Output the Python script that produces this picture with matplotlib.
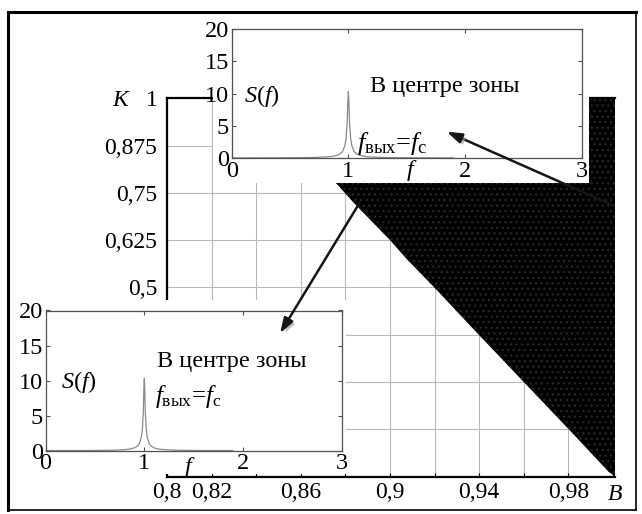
import matplotlib
matplotlib.use("Agg")
import matplotlib.pyplot as plt
import matplotlib.patheffects as pe
from matplotlib.patches import Rectangle, ConnectionPatch
from matplotlib.lines import Line2D

plt.rcParams["font.family"] = ["Liberation Serif", "DejaVu Serif"]
plt.rcParams["mathtext.fontset"] = "custom"
plt.rcParams["mathtext.rm"] = "Liberation Serif"
plt.rcParams["mathtext.it"] = "Liberation Serif:italic"
plt.rcParams["mathtext.bf"] = "Liberation Serif:bold"
plt.rcParams["hatch.linewidth"] = 1.0

# ---- main map: lower edge of the synchronisation zone in the (B, K) plane ----
zone_b = [0.840, 0.8744, 0.884, 0.900, 0.9075, 0.921, 0.9374, 0.960, 0.981, 0.998, 1.001]
zone_k = [1.000, 0.785, 0.722, 0.625, 0.575, 0.493, 0.390, 0.250, 0.120, 0.013, 0.000]

b_ticks = [0.80, 0.82, 0.84, 0.86, 0.88, 0.90, 0.92, 0.94, 0.96, 0.98, 1.00]
b_labels = ["0,8", "0,82", "", "0,86", "", "0,9", "", "0,94", "", "0,98", ""]
k_ticks = [0.0, 0.125, 0.25, 0.375, 0.5, 0.625, 0.75, 0.875, 1.0]
k_labels = ["", "0,125", "0,25", "0,375", "0,5", "0,625", "0,75", "0,875", "1"]

# ---- output spectrum in the centre of the zone ----
spec_f = [0.0, 0.4, 0.6, 0.7, 0.8, 0.85, 0.9, 0.93, 0.95, 0.97, 0.98, 0.99, 0.995,
          1.0, 1.005, 1.01, 1.02, 1.03, 1.05, 1.07, 1.1, 1.15, 1.2, 1.3, 1.4, 1.6, 1.9]
spec_s = [0.02, 0.03, 0.05, 0.08, 0.15, 0.22, 0.40, 0.65, 1.0, 1.9, 3.0, 5.5, 8.5,
          10.3, 8.5, 5.5, 3.0, 1.9, 1.0, 0.65, 0.40, 0.22, 0.15, 0.08, 0.05, 0.03, 0.02]
f_ticks = [0, 1, 2, 3]
s_ticks = [0, 5, 10, 15, 20]

W, H = 642, 514
fig = plt.figure(figsize=(W / 100, H / 100), dpi=100)


def fx(px):
    return px / W


def fy(py):
    return 1 - py / H


def rect(x0, y0, x1, y1):
    return [fx(x0), fy(y1), fx(x1) - fx(x0), fy(y0) - fy(y1)]


# main axes
ax = fig.add_axes(rect(167.1, 98.3, 615.1, 476.5))
ax.set_zorder(0)
ax.set_xlim(0.8, 1.001)
ax.set_ylim(0, 1)
ax.set_xticks(b_ticks)
ax.set_xticklabels(b_labels)
ax.set_yticks(k_ticks)
ax.set_yticklabels(k_labels)
ax.grid(True, color="#b8b8b8", lw=0.8)
ax.set_axisbelow(True)
ax.fill_between(zone_b, zone_k, 1.0, facecolor="black", edgecolor="#262626",
                hatch="...", linewidth=0, zorder=2)
ax.tick_params(axis="x", direction="in", length=3, labelsize=17, pad=4)
ax.tick_params(axis="y", direction="in", length=0, labelsize=17, pad=7)
for side in ("left", "bottom", "top"):
    ax.spines[side].set_linewidth(1.6)
    ax.spines[side].set_color("black")
ax.spines["right"].set_visible(False)

fig.text(fx(120), fy(100), "K", style="italic", fontsize=17, ha="center", va="center")
fig.text(fx(615), fy(494), "B", style="italic", fontsize=17, ha="center", va="center")

# white panels behind the two spectra
fig.add_artist(Rectangle((fx(213), fy(183)), fx(589) - fx(213), fy(13) - fy(183),
                         transform=fig.transFigure, facecolor="white",
                         edgecolor="none", zorder=1))
fig.add_artist(Rectangle((fx(9), fy(474)), fx(346) - fx(9), fy(300) - fy(474),
                         transform=fig.transFigure, facecolor="white",
                         edgecolor="none", zorder=1))


def spectrum_axes(r, fxlab, fylab, sf_xy, title_xy, eq_xy, eq_size):
    a = fig.add_axes(r)
    a.set_zorder(3)
    a.plot(spec_f, spec_s, color="#8a8a8a", lw=0.9)
    a.set_xlim(0, 3)
    a.set_ylim(0, 20)
    a.set_xticks(f_ticks)
    a.set_yticks(s_ticks)
    a.tick_params(direction="in", length=3, top=True, right=True,
                  labelsize=17.5, pad=2, color="#505050")
    for s in a.spines.values():
        s.set_color("#505050")
        s.set_linewidth(0.9)
    a.text(fxlab, fylab, "$f$", fontsize=17.5, ha="center", va="center",
           transform=a.get_xaxis_transform(), clip_on=False)
    a.text(sf_xy[0], sf_xy[1], "$S(f)$", fontsize=17.5, ha="center", va="center")
    a.text(title_xy[0], title_xy[1], "В центре зоны", fontsize=17.5,
           ha="left", va="center")
    a.text(eq_xy[0], eq_xy[1], r"$f_{\mathrm{вых}}$=$f_{\mathrm{c}}$",
           fontsize=eq_size, ha="left", va="center")
    return a


ins_top = spectrum_axes(rect(231.7, 29.3, 581.7, 158.0), 1.54, -0.10,
                        (0.26, 9.6), (1.185, 11.1), (1.07, 2.3), 19)
ins_bot = spectrum_axes(rect(45.6, 310.5, 341.7, 450.7), 1.46, -0.123,
                        (0.34, 9.8), (1.13, 12.7), (1.11, 7.7), 18)

# arrows from the zone to its spectra
shadow = [pe.SimplePatchShadow(offset=(2, -2), shadow_rgbFace="#9a9a9a", alpha=0.6),
          pe.Normal()]
for xy_a, ins, xy_b in [((0.9996, 0.718), ins_top, (1.842, 4.09)),
                        ((0.8865, 0.725), ins_bot, (2.375, 16.75))]:
    cp = ConnectionPatch(xyA=xy_a, coordsA=ax.transData, xyB=xy_b,
                         coordsB=ins.transData,
                         arrowstyle="-|>,head_length=0.9,head_width=0.3",
                         mutation_scale=10, lw=1.8, color="#151515")
    cp.set_path_effects(shadow)
    cp.set_zorder(5)
    fig.add_artist(cp)

# outer frame
for (x0, y0, x1, y1, lw) in [(8, 12, 636, 12, 2.2), (8, 12, 8, 510, 2.2),
                             (636, 12, 636, 510, 1.2), (8, 510, 636, 510, 1.2)]:
    fig.add_artist(Line2D([fx(x0), fx(x1)], [fy(y0), fy(y1)], color="black",
                          lw=lw, transform=fig.transFigure, zorder=6))

fig.savefig("out.png", dpi=100)
